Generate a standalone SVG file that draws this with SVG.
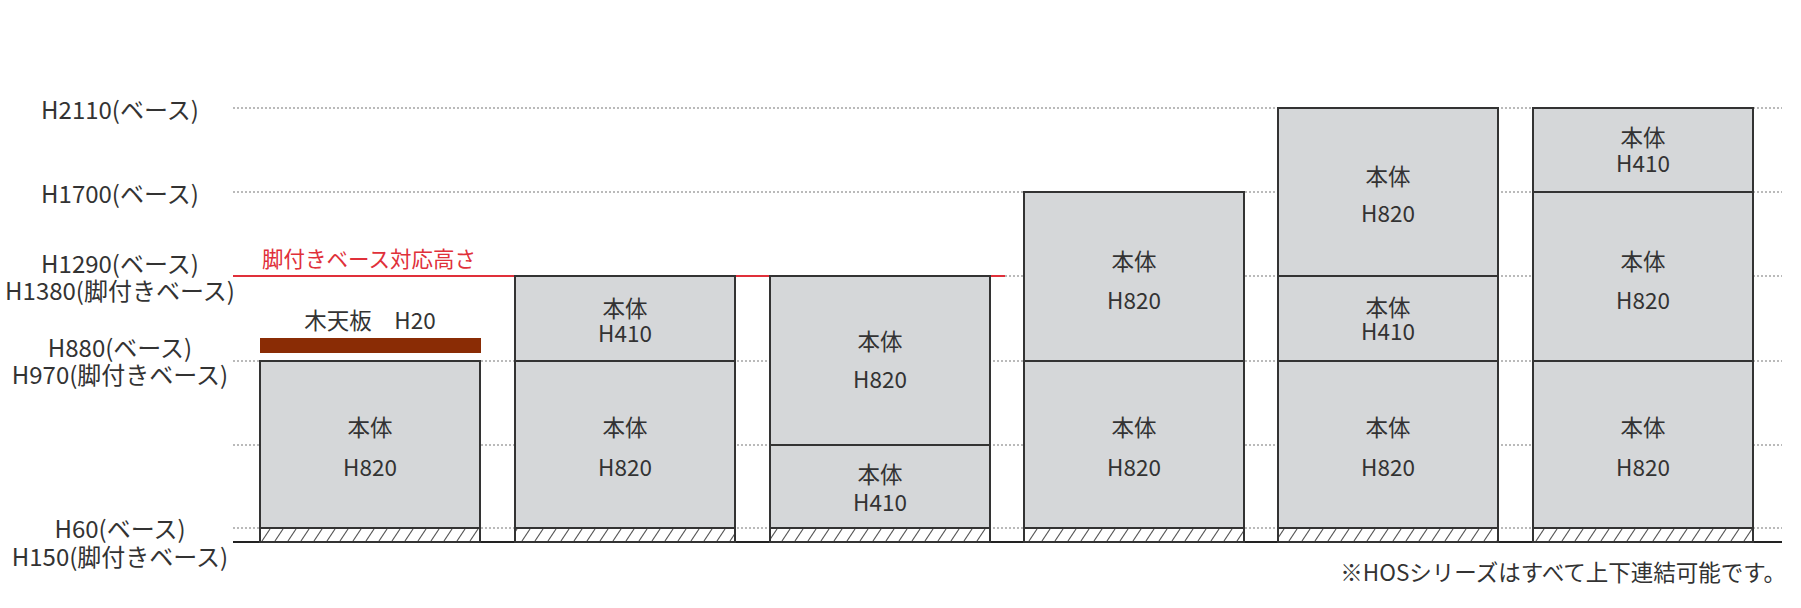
<svg xmlns="http://www.w3.org/2000/svg" width="1801" height="608" viewBox="0 0 1801 608">
<style>
  .t{font-family:"Noto Sans CJK JP","Noto Sans",sans-serif;fill:#333;}
  .lbl{font-size:24px;text-anchor:middle;dominant-baseline:central;}
  .bx{font-size:22.5px;text-anchor:middle;dominant-baseline:central;}
  .box{fill:#d5d7d9;stroke:#333;stroke-width:2;}
  .base{fill:url(#hatch);stroke:#333;stroke-width:2;}
  .dot{stroke:#777;stroke-width:1.2;stroke-dasharray:2 2;fill:none;}
</style>
<defs>
  <pattern id="hatch" patternUnits="userSpaceOnUse" x="0" y="528" width="13" height="14">
    <rect width="13" height="14" fill="#fff"/>
    <path d="M2,13 L10,1" stroke="#555" stroke-width="1.2"/>
  </pattern>
</defs>
<rect width="1801" height="608" fill="#fff"/>

<g id="guides">
  <line class="dot" x1="233" y1="108" x2="1782" y2="108"/>
  <line class="dot" x1="233" y1="192" x2="1782" y2="192"/>
  <line class="dot" x1="1005" y1="276" x2="1782" y2="276"/>
  <line class="dot" x1="233" y1="361" x2="1782" y2="361"/>
  <line class="dot" x1="233" y1="445" x2="1782" y2="445"/>
  <line class="dot" x1="233" y1="528" x2="1782" y2="528"/>
  <line x1="233" y1="276" x2="1005" y2="276" stroke="#e0303a" stroke-width="2"/>
  <line x1="233" y1="542" x2="1782" y2="542" stroke="#222" stroke-width="2"/>
</g>

<g id="labels">
  <text class="t lbl" x="120" y="108">H2110(ベース)</text>
  <text class="t lbl" x="120" y="192">H1700(ベース)</text>
  <text class="t lbl" x="120" y="262">H1290(ベース)</text>
  <text class="t lbl" x="120" y="289">H1380(脚付きベース)</text>
  <text class="t lbl" x="120" y="346">H880(ベース)</text>
  <text class="t lbl" x="120" y="373">H970(脚付きベース)</text>
  <text class="t lbl" x="120" y="527">H60(ベース)</text>
  <text class="t lbl" x="120" y="555">H150(脚付きベース)</text>
  <text class="t" x="262" y="257" font-size="21.5" dominant-baseline="central" style="fill:#e0303a">脚付きベース対応高さ</text>
  <text class="t" x="1786" y="571" font-size="22.5" text-anchor="end" dominant-baseline="central">※HOSシリーズはすべて上下連結可能です。</text>
</g>

<g id="col1">
  <text class="t" x="370" y="319" font-size="22.5" text-anchor="middle" dominant-baseline="central">木天板　H20</text>
  <rect x="260" y="338" width="221" height="15" fill="#8a2c05"/>
  <rect class="box" x="260" y="361" width="220" height="167"/>
  <text class="t bx" x="370" y="426">本体</text>
  <text class="t bx" x="370" y="466">H820</text>
  <rect class="base" x="260" y="528" width="220" height="14"/>
</g>

<g id="col2">
  <rect class="box" x="515" y="276" width="220" height="85"/>
  <text class="t bx" x="625" y="307">本体</text>
  <text class="t bx" x="625" y="332">H410</text>
  <rect class="box" x="515" y="361" width="220" height="167"/>
  <text class="t bx" x="625" y="426">本体</text>
  <text class="t bx" x="625" y="466">H820</text>
  <rect class="base" x="515" y="528" width="220" height="14"/>
</g>

<g id="col3">
  <rect class="box" x="770" y="276" width="220" height="169"/>
  <text class="t bx" x="880" y="340">本体</text>
  <text class="t bx" x="880" y="378">H820</text>
  <rect class="box" x="770" y="445" width="220" height="83"/>
  <text class="t bx" x="880" y="473">本体</text>
  <text class="t bx" x="880" y="501">H410</text>
  <rect class="base" x="770" y="528" width="220" height="14"/>
</g>

<g id="col4">
  <rect class="box" x="1024" y="192" width="220" height="169"/>
  <text class="t bx" x="1134" y="260">本体</text>
  <text class="t bx" x="1134" y="299">H820</text>
  <rect class="box" x="1024" y="361" width="220" height="167"/>
  <text class="t bx" x="1134" y="426">本体</text>
  <text class="t bx" x="1134" y="466">H820</text>
  <rect class="base" x="1024" y="528" width="220" height="14"/>
</g>

<g id="col5">
  <rect class="box" x="1278" y="108" width="220" height="168"/>
  <text class="t bx" x="1388" y="175">本体</text>
  <text class="t bx" x="1388" y="212">H820</text>
  <rect class="box" x="1278" y="276" width="220" height="85"/>
  <text class="t bx" x="1388" y="306">本体</text>
  <text class="t bx" x="1388" y="330">H410</text>
  <rect class="box" x="1278" y="361" width="220" height="167"/>
  <text class="t bx" x="1388" y="426">本体</text>
  <text class="t bx" x="1388" y="466">H820</text>
  <rect class="base" x="1278" y="528" width="220" height="14"/>
</g>

<g id="col6">
  <rect class="box" x="1533" y="108" width="220" height="84"/>
  <text class="t bx" x="1643" y="136">本体</text>
  <text class="t bx" x="1643" y="162">H410</text>
  <rect class="box" x="1533" y="192" width="220" height="169"/>
  <text class="t bx" x="1643" y="260">本体</text>
  <text class="t bx" x="1643" y="299">H820</text>
  <rect class="box" x="1533" y="361" width="220" height="167"/>
  <text class="t bx" x="1643" y="426">本体</text>
  <text class="t bx" x="1643" y="466">H820</text>
  <rect class="base" x="1533" y="528" width="220" height="14"/>
</g>
</svg>
